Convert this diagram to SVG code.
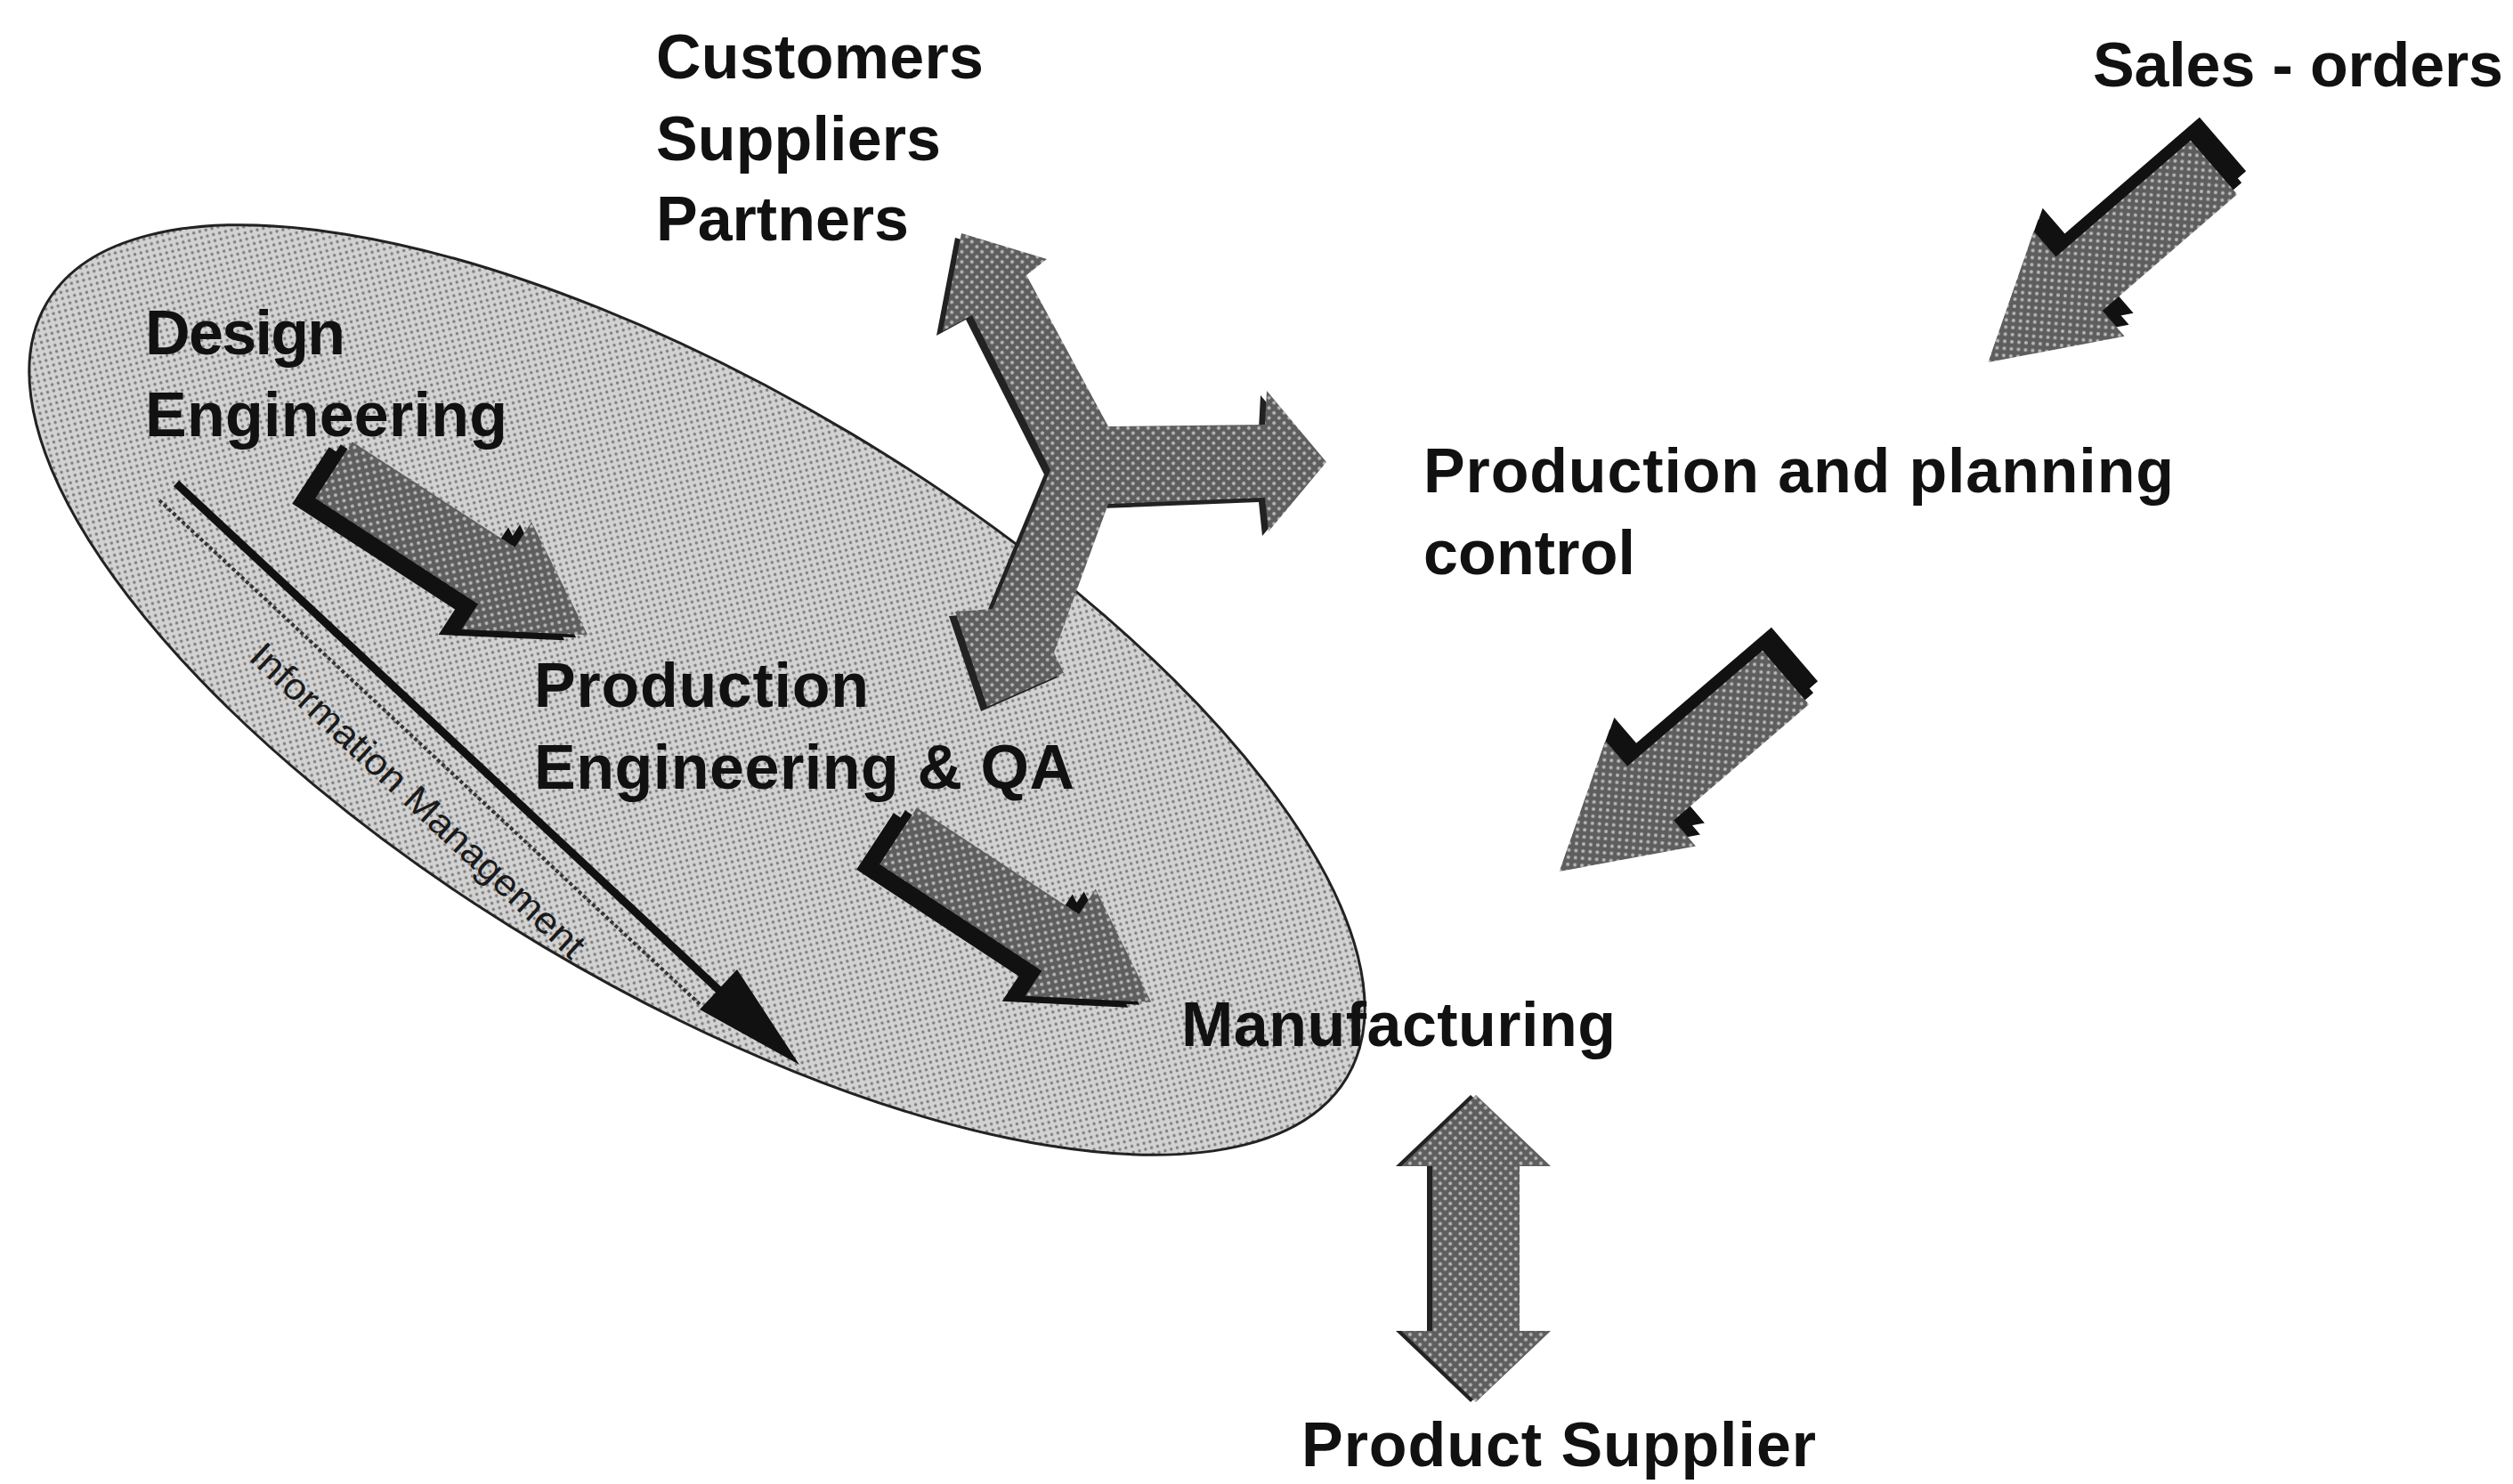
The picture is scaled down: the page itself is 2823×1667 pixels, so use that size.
<svg xmlns="http://www.w3.org/2000/svg" width="2823" height="1667" viewBox="0 0 2823 1667">
<defs>
<pattern id="halfLight" width="7" height="7" patternUnits="userSpaceOnUse" patternTransform="rotate(45)">
<rect width="7" height="7" fill="#d2d2d2"/>
<circle cx="3.5" cy="3.5" r="1.8" fill="#808080"/>
</pattern>
<pattern id="halfDark" width="8" height="8" patternUnits="userSpaceOnUse" patternTransform="rotate(45)">
<rect width="8" height="8" fill="#5e5e5e"/>
<circle cx="4" cy="4" r="2" fill="#b8b8b8"/>
</pattern>
<path id="arrowAB" d="M0,-38 L218,-38 L218,-72 L340,0 L218,72 L218,38 L0,38 Z"/>
<path id="arrowCD" d="M0,-40 L200,-40 L200,-78 L335,0 L200,78 L200,40 L0,40 Z"/>
<path id="arrowY" d="M1080,262 L1176,291 L1153,309 L1245,479 L1421,477 L1423,439 L1490,519 L1425,597 L1421,559 L1245,566 L1184,733 L1195,756 L1109,794 L1073,687 L1115,684 L1180,528 L1092,354 L1059,372 Z"/>
<path id="arrowV" d="M1658,1230 L1742,1310 L1707,1310 L1707,1495 L1742,1495 L1658,1575 L1574,1495 L1609,1495 L1609,1310 L1574,1310 Z"/>
</defs>
<style>
.lbl{font-family:"Liberation Sans",Arial,Helvetica,sans-serif;font-weight:bold;fill:#111;font-size:70px}
.info{font-family:"Liberation Sans",Arial,sans-serif;font-size:42px;fill:#1a1a1a;}
.arrow{fill:url(#halfDark)}
.shadow{fill:#111}
.ell{fill:url(#halfLight);stroke:#222;stroke-width:3}
</style>
<rect width="2823" height="1667" fill="#ffffff"/>

<g id="integration-ellipse">
<ellipse class="ell" cx="783" cy="775" rx="850" ry="336" transform="rotate(30.8 783 775)"/>
</g>

<g id="connectors">
<g id="information-management">
<line x1="179" y1="562" x2="786" y2="1128" stroke="#333" stroke-width="4" stroke-dasharray="4 3"/>
<line x1="198" y1="543" x2="815" y2="1119" stroke="#111" stroke-width="9"/>
<polygon points="898,1196 786,1134 828,1089" fill="#111"/>
<text class="info" transform="translate(278,740) rotate(43)" textLength="497" lengthAdjust="spacingAndGlyphs">Information Management</text>
</g>
<g id="arrow-design-to-production">
<use href="#arrowAB" class="shadow" transform="translate(349,534) rotate(33)"/>
<use href="#arrowAB" class="shadow" transform="translate(362,531) rotate(33)"/>
<use href="#arrowAB" class="arrow" transform="translate(375,528) rotate(33)"/>
</g>
<g id="arrow-production-to-manufacturing">
<use href="#arrowAB" class="shadow" transform="translate(983,945) rotate(33.3)"/>
<use href="#arrowAB" class="shadow" transform="translate(996,942) rotate(33.3)"/>
<use href="#arrowAB" class="arrow" transform="translate(1009,939) rotate(33.3)"/>
</g>
<g id="arrow-three-way">
<use href="#arrowY" fill="#222" transform="translate(-7,5)"/>
<use href="#arrowY" class="arrow"/>
</g>
<g id="arrow-sales-to-ppc">
<use href="#arrowCD" class="shadow" transform="translate(2497,162) rotate(139.2)"/>
<use href="#arrowCD" class="shadow" transform="translate(2492,175) rotate(139.2)"/>
<use href="#arrowCD" class="arrow" transform="translate(2487,188) rotate(139.2)"/>
</g>
<g id="arrow-ppc-to-manufacturing">
<use href="#arrowCD" class="shadow" transform="translate(2016,735) rotate(139.4)"/>
<use href="#arrowCD" class="shadow" transform="translate(2011,748) rotate(139.4)"/>
<use href="#arrowCD" class="arrow" transform="translate(2006,761) rotate(139.4)"/>
</g>
<g id="arrow-manufacturing-supplier">
<use href="#arrowV" fill="#222" transform="translate(-6,0)"/>
<use href="#arrowV" class="arrow"/>
</g>
</g>

<g id="node-customers">
<text class="lbl" x="737" y="88" textLength="368">Customers</text>
<text class="lbl" x="737" y="180" textLength="320">Suppliers</text>
<text class="lbl" x="737" y="270" textLength="284">Partners</text>
</g>
<g id="node-sales-orders">
<text class="lbl" x="2351" y="97" textLength="461">Sales - orders</text>
</g>
<g id="node-design-engineering">
<text class="lbl" x="163" y="398" textLength="225">Design</text>
<text class="lbl" x="163" y="490" textLength="407">Engineering</text>
</g>
<g id="node-production-planning">
<text class="lbl" x="1599" y="553" textLength="843">Production and planning</text>
<text class="lbl" x="1599" y="645" textLength="238">control</text>
</g>
<g id="node-production-engineering">
<text class="lbl" x="600" y="794" textLength="376">Production</text>
<text class="lbl" x="600" y="886" textLength="607">Engineering &amp; QA</text>
</g>
<g id="node-manufacturing">
<text class="lbl" x="1327" y="1175" textLength="488">Manufacturing</text>
</g>
<g id="node-product-supplier">
<text class="lbl" x="1462" y="1647" textLength="578">Product Supplier</text>
</g>
</svg>
